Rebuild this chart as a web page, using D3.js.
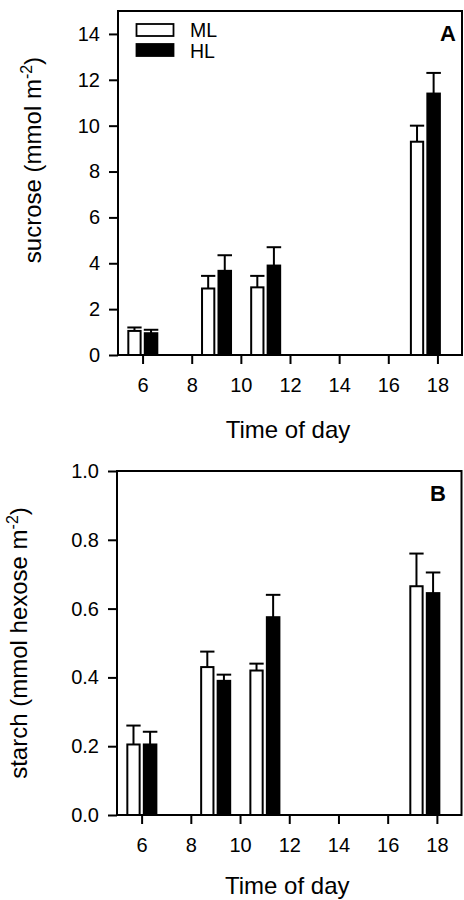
<!DOCTYPE html>
<html>
<head>
<meta charset="utf-8">
<script src="https://cdn.jsdelivr.net/npm/d3@7"></script>
<style>
  html, body { margin: 0; padding: 0; background: #fff; }
  svg { display: block; font-family: "Liberation Sans", Arial, sans-serif; }
</style>
</head>
<body>
<svg id="chart" width="464" height="900"></svg>
<script>
// ---- data ----
const times = [6, 9, 11, 17.5];
const series = ["ML", "HL"];
const sucroseML = [1.05, 2.9, 2.95, 9.3];
const sucroseMLerr = [0.15, 0.55, 0.5, 0.7];
const sucroseHL = [0.95, 3.67, 3.9, 11.4];
const sucroseHLerr = [0.15, 0.68, 0.8, 0.9];
const starchML = [0.205, 0.43, 0.42, 0.665];
const starchMLerr = [0.055, 0.045, 0.02, 0.095];
const starchHL = [0.205, 0.39, 0.575, 0.645];
const starchHLerr = [0.037, 0.018, 0.065, 0.06];
const xTicks = [6, 8, 10, 12, 14, 16, 18];
const sucroseTicks = [0, 2, 4, 6, 8, 10, 12, 14];
const starchTicks = [0, 0.2, 0.4, 0.6, 0.8, 1.0];

const svg = d3.select("#chart");

function panel(opts) {
  const { left, right, top, bottom, yMax, yTicks, yFmt, ml, mlErr, hl, hlErr, letter, letterPos, yLabel, yLabelPos, legend, xLabelDy } = opts;
  const x = d3.scaleLinear().domain([5, 19]).range([left, right]);
  const y = d3.scaleLinear().domain([0, yMax]).range([bottom, top]);
  const g = svg.append("g");

  const groups = [
    { name: "ML", vals: ml, errs: mlErr, off0: -0.58, off1: -0.08, fill: "#fff" },
    { name: "HL", vals: hl, errs: hlErr, off0: 0.09, off1: 0.6, fill: "#000" }
  ];
  groups.forEach(s => {
    times.forEach((t, i) => {
      const x0 = x(t + s.off0), x1 = x(t + s.off1);
      const cx = (x0 + x1) / 2;
      g.append("line").attr("x1", cx).attr("x2", cx)
        .attr("y1", y(s.vals[i])).attr("y2", y(s.vals[i] + s.errs[i]))
        .attr("stroke", "#000").attr("stroke-width", 2);
      g.append("line").attr("x1", x0 - 1).attr("x2", x1 + 1)
        .attr("y1", y(s.vals[i] + s.errs[i])).attr("y2", y(s.vals[i] + s.errs[i]))
        .attr("stroke", "#000").attr("stroke-width", 2);
      g.append("rect").attr("x", x0).attr("y", y(s.vals[i]))
        .attr("width", x1 - x0).attr("height", y(0) - y(s.vals[i]))
        .attr("fill", s.fill).attr("stroke", "#000").attr("stroke-width", 2);
    });
  });

  g.append("rect").attr("x", left).attr("y", top)
    .attr("width", right - left).attr("height", bottom - top)
    .attr("fill", "none").attr("stroke", "#000").attr("stroke-width", 2);

  const yAxis = d3.axisLeft(y).tickValues(yTicks).tickSize(9).tickPadding(9).tickFormat(yFmt);
  const ya = g.append("g").attr("transform", `translate(${left},0)`).call(yAxis);
  const xAxis = d3.axisBottom(x).tickValues(xTicks).tickSize(9).tickPadding(14).tickFormat(d3.format("d"));
  const xa = g.append("g").attr("transform", `translate(0,${bottom})`).call(xAxis);
  [ya, xa].forEach(a => {
    a.select(".domain").remove();
    a.selectAll(".tick line").attr("stroke", "#000").attr("stroke-width", 2);
    a.selectAll(".tick text").attr("fill", "#000").attr("font-size", 20)
      .attr("font-family", "'Liberation Sans', Arial, sans-serif");
  });

  g.append("text").attr("x", (left + right) / 2 - 2).attr("y", bottom + xLabelDy)
    .attr("text-anchor", "middle").style("font-size", "24px").text("Time of day");

  const yl = g.append("text")
    .attr("transform", `translate(${yLabelPos[0]},${yLabelPos[1]}) rotate(-90)`)
    .attr("text-anchor", "middle").style("font-size", "24px");
  yl.append("tspan").text(yLabel);
  yl.append("tspan").attr("dy", -9).style("font-size", "16px").text("-2");
  yl.append("tspan").attr("dy", 9).text(")");

  g.append("text").attr("x", letterPos[0]).attr("y", letterPos[1])
    .attr("text-anchor", "end").style("font-size", "22px").style("font-weight", "bold").text(letter);

  if (legend) {
    const fills = ["#fff", "#000"];
    series.forEach((s, i) => {
      g.append("rect").attr("x", 136.5).attr("y", 24 + i * 20).attr("width", 37).attr("height", 12)
        .attr("fill", fills[i]).attr("stroke", "#000").attr("stroke-width", 1.8);
      g.append("text").attr("x", 190).attr("y", 37 + i * 20.5)
        .style("font-size", "19.5px").text(s);
    });
  }
}

panel({
  left: 118, right: 462, top: 11, bottom: 355, yMax: 15,
  yTicks: sucroseTicks, yFmt: d3.format("d"),
  ml: sucroseML, mlErr: sucroseMLerr, hl: sucroseHL, hlErr: sucroseHLerr,
  letter: "A", letterPos: [456, 41],
  yLabel: "sucrose (mmol m", yLabelPos: [41, 160], legend: true, xLabelDy: 83
});

panel({
  left: 117, right: 461.5, top: 471, bottom: 815, yMax: 1.0,
  yTicks: starchTicks, yFmt: d3.format(".1f"),
  ml: starchML, mlErr: starchMLerr, hl: starchHL, hlErr: starchHLerr,
  letter: "B", letterPos: [446, 501],
  yLabel: "starch (mmol hexose m", yLabelPos: [27, 643], legend: false, xLabelDy: 79
});
</script>
</body>
</html>
